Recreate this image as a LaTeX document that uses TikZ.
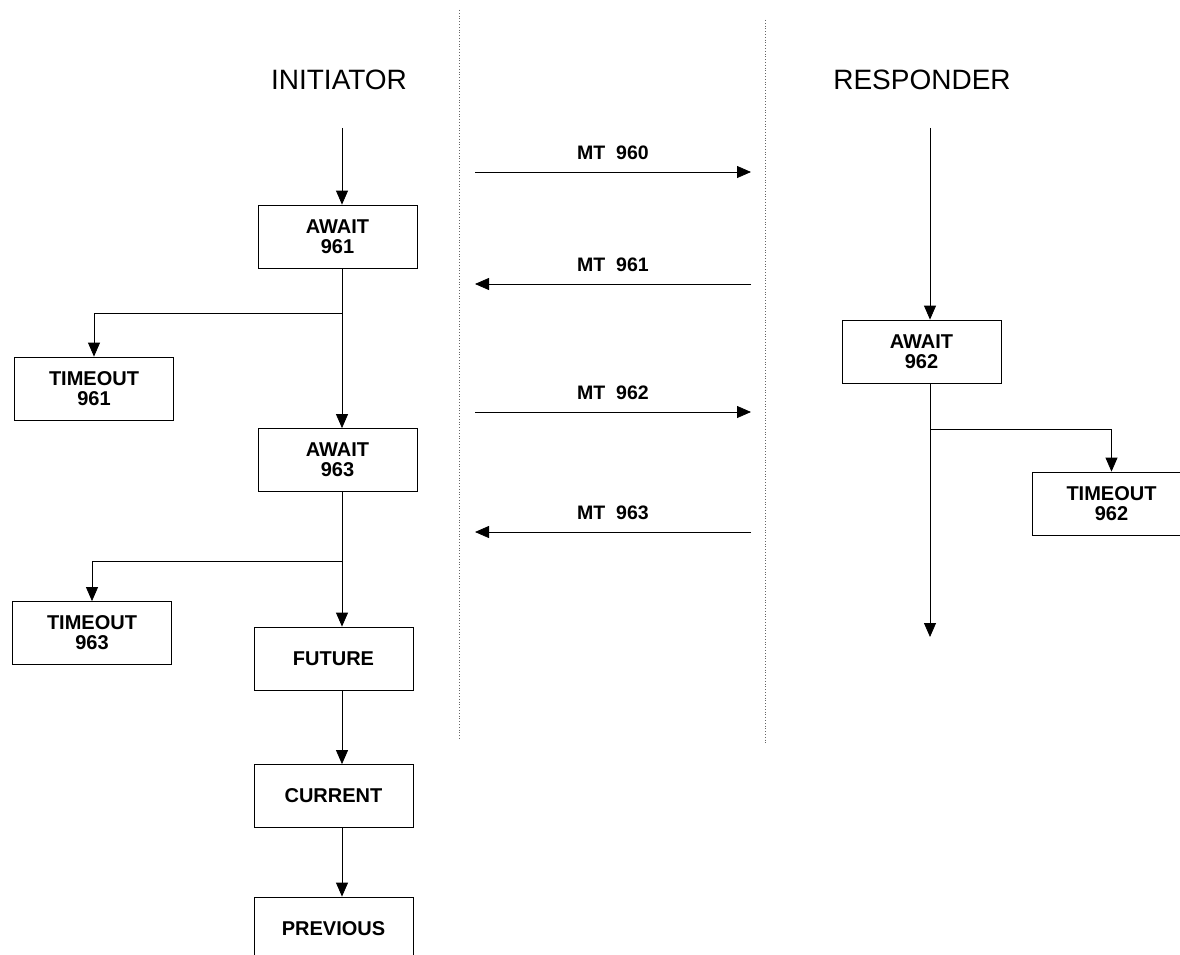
\documentclass[tikz,border=0pt]{standalone}
\usepackage{fontspec}
\setmainfont{Liberation Sans}
\usetikzlibrary{arrows.meta}
\begin{document}
\begin{tikzpicture}[x=1pt,y=-1pt,
  box/.style={draw, line width=0.8pt, minimum width=159pt, minimum height=63pt, inner sep=0pt, align=center,
    font=\fontsize{20}{20}\selectfont\bfseries},
  head/.style={font=\fontsize{28}{28}\selectfont},
  lbl/.style={font=\fontsize{19.5}{19.5}\selectfont\bfseries, inner sep=0pt},
  arr/.style={line width=0.8pt, -{Triangle[length=14pt,width=12pt]}},
  sep/.style={line width=0.8pt, dotted, gray!80!black}]
\clip (0,0) rectangle (1180,955);
\fill[white] (0,0) rectangle (1180,955);
% separators
\coordinate (sepla) at (459,10);
\coordinate (seplb) at (459,740);
\coordinate (sepra) at (765,20);
\coordinate (seprb) at (765,745);
\draw[sep] (sepla) -- (seplb);
\draw[sep] (sepra) -- (seprb);
% headings
\node[head] (ini) at (339,80) {INITIATOR};
\node[head] (res) at (922,80) {RESPONDER};
% initiator boxes
\node[box] (aw1) at (337.5,236.5) {AWAIT\\961};
\node[box] (to1) at (94,388.5) {TIMEOUT\\961};
\node[box] (aw3) at (337.5,460) {AWAIT\\963};
\node[box] (to3) at (92,633) {TIMEOUT\\963};
\node[box] (fut) at (333.5,658.5) {FUTURE};
\node[box] (cur) at (333.5,796) {CURRENT};
\node[box] (prev) at (333.5,928.5) {PREVIOUS};
% responder boxes
\node[box] (aw2) at (921.5,351.5) {AWAIT\\962};
\node[box] (to2) at (1111.5,503.5) {TIMEOUT\\962};
% initiator connectors
\coordinate (ix) at (342,0);
\coordinate (istart) at (342,128);
\coordinate (ib1) at (342,313);
\coordinate (ib3) at (342,561);
\draw[arr] (istart) -- (aw1.north -| ix);
\draw[arr] (aw1.south -| ix) -- (aw3.north -| ix);
\draw[arr] (ib1) -| (to1.north);
\draw[arr] (aw3.south -| ix) -- (fut.north -| ix);
\draw[arr] (ib3) -| (to3.north);
\draw[arr] (fut.south -| ix) -- (cur.north -| ix);
\draw[arr] (cur.south -| ix) -- (prev.north -| ix);
% responder connectors
\coordinate (rx) at (930,0);
\coordinate (rstart) at (930,128);
\coordinate (rb) at (930,429);
\coordinate (rend) at (930,637);
\draw[arr] (rstart) -- (aw2.north -| rx);
\draw[arr] (aw2.south -| rx) -- (rend);
\draw[arr] (rb) -| (to2.north);
% messages
\coordinate (m0a) at (475,172); \coordinate (m0b) at (751,172);
\coordinate (m1a) at (751,284); \coordinate (m1b) at (475,284);
\coordinate (m2a) at (475,412); \coordinate (m2b) at (751,412);
\coordinate (m3a) at (751,532); \coordinate (m3b) at (475,532);
\draw[arr] (m0a) -- node[lbl, above=12pt] (l0) {MT\ \ 960} (m0b);
\draw[arr] (m1a) -- node[lbl, above=12pt] (l1) {MT\ \ 961} (m1b);
\draw[arr] (m2a) -- node[lbl, above=12pt] (l2) {MT\ \ 962} (m2b);
\draw[arr] (m3a) -- node[lbl, above=12pt] (l3) {MT\ \ 963} (m3b);
\end{tikzpicture}
\end{document}
